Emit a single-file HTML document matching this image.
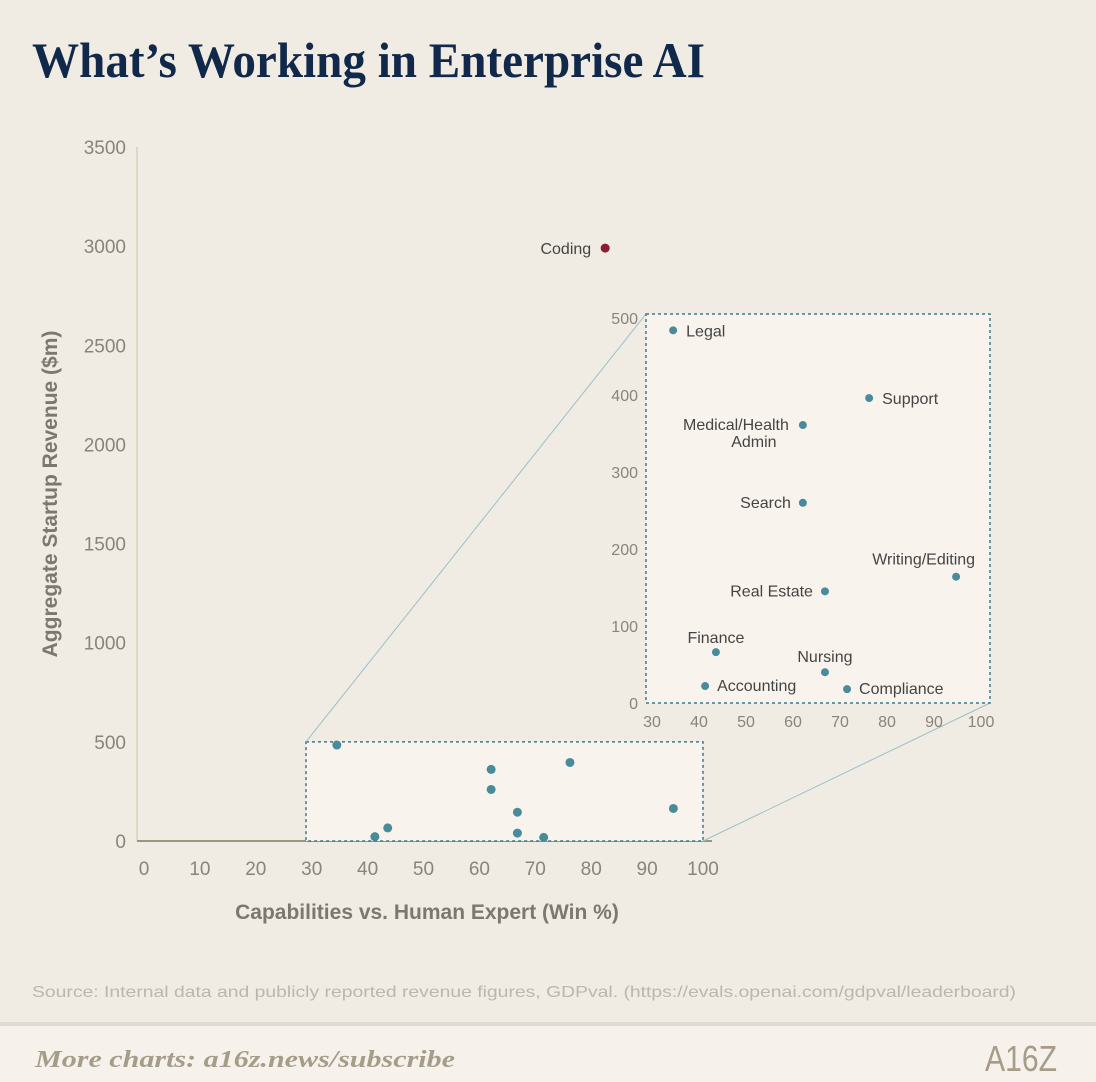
<!DOCTYPE html>
<html><head><meta charset="utf-8"><style>
html,body{margin:0;padding:0;background:#f0ebe3;}
svg{display:block;font-family:"Liberation Sans",sans-serif;}
</style></head><body>
<svg id="chart" width="1096" height="1082" viewBox="0 0 1096 1082" xmlns="http://www.w3.org/2000/svg">
<rect width="1096" height="1082" fill="#f0ebe3"/>
<text x="32" y="77" font-family="Liberation Serif, serif" font-size="50" font-weight="bold" fill="#10294a" textLength="673" lengthAdjust="spacingAndGlyphs">What’s Working in Enterprise AI</text>
<g id="main"></g>
<g id="inset"></g>
<text transform="translate(57,494) rotate(-90)" text-anchor="middle" font-size="21" font-weight="bold" fill="#7d776d">Aggregate Startup Revenue ($m)</text>
<text x="427" y="919" text-anchor="middle" font-size="21" font-weight="bold" fill="#7d776d">Capabilities vs. Human Expert (Win %)</text>
<text x="32" y="997" font-size="16" fill="#bdb6aa" textLength="984" lengthAdjust="spacingAndGlyphs">Source: Internal data and publicly reported revenue figures, GDPval. (https://evals.openai.com/gdpval/leaderboard)</text>
<rect x="0" y="1022" width="1096" height="4" fill="#e2dace"/>
<rect x="0" y="1026" width="1096" height="56" fill="#f6f2eb"/>
<text x="35" y="1067" font-family="Liberation Serif, serif" font-style="italic" font-weight="bold" font-size="24" fill="#a69c8a" textLength="420" lengthAdjust="spacingAndGlyphs">More charts: a16z.news/subscribe</text>
<text x="985" y="1071" font-family="Liberation Sans, sans-serif" font-size="36" fill="#a69c8a" textLength="72" lengthAdjust="spacingAndGlyphs">A16Z</text>
</svg>
<script>
const categories=["Coding","Legal","Support","Medical/Health Admin","Search","Writing/Editing","Real Estate","Finance","Nursing","Accounting","Compliance"];
const winPct=[82.5,34.5,76.2,62.1,62.1,94.7,66.8,43.6,66.8,41.3,71.5];
const revenue=[2990,484,396,361,260,164,145,66,40,22,18];
const xTicks=[0,10,20,30,40,50,60,70,80,90,100];
const yTicks=[0,500,1000,1500,2000,2500,3000,3500];
const insetXTicks=[30,40,50,60,70,80,90,100];
const insetYTicks=[0,100,200,300,400,500];
const NS="http://www.w3.org/2000/svg";
function mk(p,t,a){const e=document.createElementNS(NS,t);for(const k in a)e.setAttribute(k,a[k]);p.appendChild(e);return e;}
const X=v=>144+v*5.59, Y=v=>841-v*0.1983;
const IX=v=>652+(v-30)*4.7, IY=v=>703-v*0.77;
const main=document.getElementById('main'), inset=document.getElementById('inset');
let l=mk(main,'line',{x1:137,y1:147,x2:137,y2:841,stroke:'#ddd6c4','stroke-width':2});

l=mk(main,'line',{x1:137,y1:841,x2:712,y2:841,stroke:'#9c9580','stroke-width':2});

yTicks.forEach(v=>{const t=mk(main,'text',{x:126,y:Y(v)+7,'text-anchor':'end','font-size':19,fill:'#8a847a'});t.textContent=v;
});
xTicks.forEach(v=>{const t=mk(main,'text',{x:X(v),y:875,'text-anchor':'middle','font-size':19,fill:'#8a847a'});t.textContent=v;
});
const bx1=306,bx2=X(100),by1=Y(500),by2=Y(0);
let r=mk(main,'rect',{x:bx1,y:by1,width:bx2-bx1,height:by2-by1,fill:'#f8f4ed',stroke:'#3d7a8c','stroke-width':1.5,'stroke-dasharray':'3,3'});

l=mk(main,'line',{x1:bx1,y1:by1,x2:646,y2:314,stroke:'#9cc0c8','stroke-width':1});

l=mk(main,'line',{x1:bx2,y1:by2,x2:990,y2:703,stroke:'#9cc0c8','stroke-width':1});

categories.forEach((c,i)=>{const big=revenue[i]>600;const d=mk(main,'circle',{cx:X(winPct[i]),cy:Y(revenue[i]),r:4.5,fill:big?'#8e1b30':'#4a8b9b'});
});
const ct=mk(main,'text',{x:X(winPct[0])-14,y:Y(revenue[0])+6,'text-anchor':'end','font-size':16,fill:'#444'});ct.textContent='Coding';

r=mk(inset,'rect',{x:646,y:314,width:344,height:389,fill:'#f8f4ed',stroke:'#3d7a8c','stroke-width':1.5,'stroke-dasharray':'3,3'});

insetYTicks.forEach(v=>{const t=mk(inset,'text',{x:638,y:IY(v)+6,'text-anchor':'end','font-size':16,fill:'#8a847a'});t.textContent=v;
});
insetXTicks.forEach(v=>{const t=mk(inset,'text',{x:IX(v),y:727,'text-anchor':'middle','font-size':16,fill:'#8a847a'});t.textContent=v;
});
const pos={"Legal":[13,6,'start'],"Support":[13,6,'start'],"Medical/Health Admin":[-14,0,'end'],"Search":[-12,5,'end'],"Writing/Editing":[19,-12,'end'],"Real Estate":[-12,5,'end'],"Finance":[0,-9,'middle'],"Nursing":[0,-10,'middle'],"Accounting":[12,5,'start'],"Compliance":[12,5,'start']};
categories.forEach((c,i)=>{if(revenue[i]>600)return;const x=IX(winPct[i]),y=IY(revenue[i]);
const d=mk(inset,'circle',{cx:x,cy:y,r:4,fill:'#4a8b9b'});

const p=pos[c];
if(c==="Medical/Health Admin"){
 const t=mk(inset,'text',{x:x-14,y:y+5,'text-anchor':'end','font-size':16,fill:'#444'});t.textContent='Medical/Health';
 
 const t2=mk(inset,'text',{x:x-49,y:y+22,'text-anchor':'middle','font-size':16,fill:'#444'});t2.textContent='Admin';
 
 return;}
const t=mk(inset,'text',{x:x+p[0],y:y+p[1],'text-anchor':p[2],'font-size':16,fill:'#444'});t.textContent=c;
});
</script>
</body></html>
